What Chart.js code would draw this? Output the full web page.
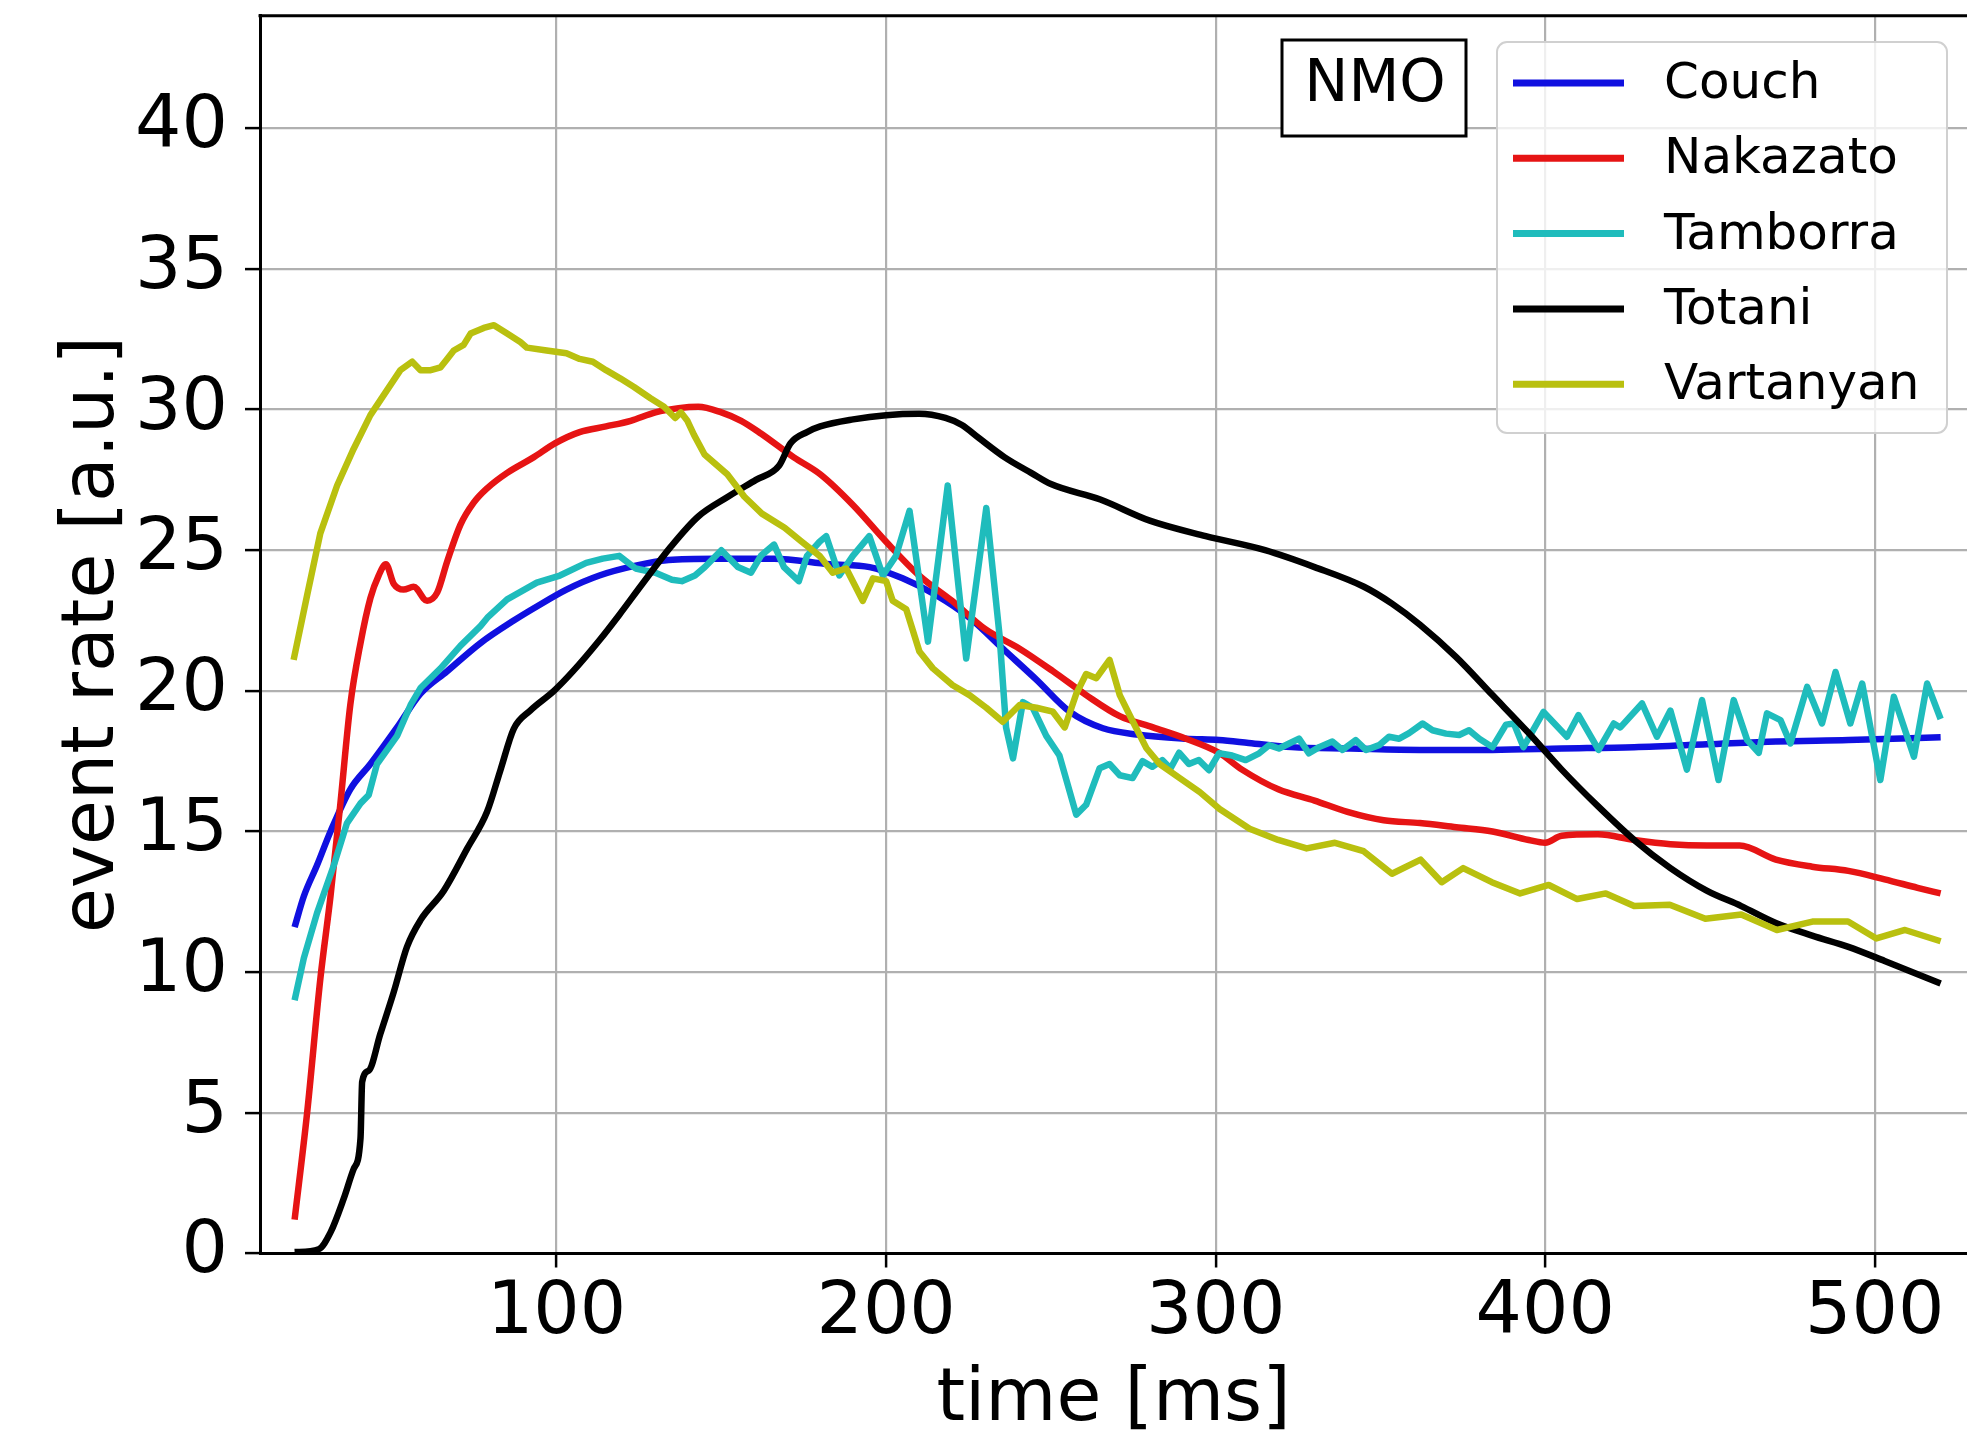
<!DOCTYPE html>
<html><head><meta charset="utf-8">
<script src="https://cdn.jsdelivr.net/npm/chart.js@4.4.0/dist/chart.umd.min.js"></script>
<style>html,body{margin:0;padding:0;background:#fff;overflow:hidden}#wrap{width:1967px;height:1438px;position:relative}</style>
</head><body><div id="wrap"><canvas id="c" width="1967" height="1438"></canvas></div>
<script>
const seriesNames = ['Couch', 'Nakazato', 'Tamborra', 'Totani', 'Vartanyan'];
const seriesColors = ['#1010e0', '#e61414', '#1fbcbc', '#000000', '#b9c00f'];
const xTickValues = [100, 200, 300, 400, 500];
const yTickValues = [0, 5, 10, 15, 20, 25, 30, 35, 40];

const couchTime = [20.5,23.3,27.3,31.4,37.4,43.5,51.6,58.7,66.8,76.9,87,94,103,113,124,134,148,166,183,195,205,215.2,225.3,235.4,245.6,255.7,265.8,276,291,301,310,323,341,362,384,405,427,449,470,492,520];
const couchRate = [11.6,12.7,13.8,15.0,16.5,17.4,18.7,19.9,20.7,21.7,22.5,23.0,23.6,24.1,24.45,24.65,24.7,24.7,24.5,24.4,24.0,23.4,22.6,21.5,20.4,19.26,18.67,18.45,18.3,18.25,18.15,18.0,17.95,17.9,17.9,17.95,18.0,18.1,18.2,18.25,18.35];

const nakazatoTime = [20.5,24.3,28.3,31.4,34.4,37.4,40.5,43.5,46,48.2,50.6,53.6,56.6,60.7,63.8,66.8,70.8,74.9,78.9,85,93,99.5,107,115,122.5,130,137,143,150,156,162,172,180,190,200,210,220,230,240.5,250.6,260.7,270.9,281,291,301,308,319,330,340,351,362,373,384,395,400,405,416,427,438,449,459,470,481,492,503,513,520];
const nakazatoRate = [1.2,5.0,9.75,12.7,16.0,19.5,21.7,23.3,24.1,24.5,23.8,23.6,23.7,23.2,23.5,24.6,25.9,26.7,27.2,27.75,28.3,28.8,29.2,29.4,29.6,29.9,30.05,30.1,29.9,29.6,29.15,28.3,27.7,26.6,25.3,24.1,23.2,22.2,21.5,20.7,19.85,19.1,18.7,18.3,17.8,17.2,16.5,16.1,15.7,15.4,15.3,15.15,15.0,14.7,14.6,14.85,14.9,14.7,14.55,14.5,14.5,14.0,13.75,13.6,13.3,13.0,12.8];

const tamborraTime = [20.5,23.3,27.3,32.4,36.4,40.5,43,45.5,51.6,55.7,58.7,64.8,70.8,76.9,79,85,94,101,109,114,119,124,130,135,138,142,145,150,155,159,162,166,169,173.5,176,179.8,181.8,185.8,189.9,194.9,199,203,207.1,212.7,218.7,224.3,230.4,234.4,236.4,238.5,241.5,244.5,248.6,252.6,257.7,260.7,264.8,267.8,270.9,274.8,277.8,280.8,283.8,286.3,288.9,291.9,294.9,298,301,305,309.1,313.2,316.2,319.2,322.3,325.3,328.3,331.4,335.4,338.5,342.5,345.6,349.6,352.6,355.7,358.7,362.8,365.8,369.9,373.9,376.9,380,384,388.1,390.5,393.4,399.5,406.6,410.1,416.2,420.8,422.8,429.4,433.9,438,443,447.6,452.6,457.2,461.3,464.8,467.3,471.4,474.4,479.5,484,488.1,492.6,496.2,501.7,505.8,511.9,515.9,520];
const tamborraRate = [9.0,10.5,12.1,13.8,15.3,16.0,16.3,17.4,18.4,19.5,20.1,20.8,21.6,22.3,22.6,23.25,23.85,24.1,24.55,24.7,24.8,24.35,24.2,23.95,23.9,24.1,24.4,25.0,24.4,24.2,24.8,25.2,24.4,23.9,24.8,25.3,25.5,24.1,24.8,25.5,24.1,24.8,26.4,21.75,27.3,21.15,26.5,22.0,18.7,17.6,19.6,19.4,18.4,17.7,15.6,15.95,17.25,17.4,17.0,16.9,17.5,17.3,17.54,17.24,17.8,17.4,17.54,17.18,17.78,17.7,17.54,17.78,18.07,17.95,18.13,18.3,17.78,18.0,18.2,17.9,18.25,17.9,18.07,18.37,18.3,18.5,18.84,18.6,18.48,18.43,18.6,18.3,18.0,18.8,18.84,18.0,19.25,18.37,19.14,17.9,18.84,18.7,19.55,18.37,19.3,17.2,19.67,16.83,19.67,18.25,17.8,19.2,18.96,18.13,20.14,18.84,20.67,18.84,20.26,16.83,19.79,17.66,20.26,19.0];

const totaniTime = [20.5,27.8,31.4,35.4,38.4,40.5,41,43,46.5,50.6,54.6,58.7,65.8,72.9,78.9,83,87,92,99.2,105,113,119,126,134.5,143,152,160.5,167.5,171,176,180,190,200,210,218,223,228,236,244,250,265,280,297,315,330,345,353.5,362,373,384,395,405,416,427,438,449,459.5,470,481,492,503,520];
const totaniRate = [0.05,0.15,0.75,1.95,3.0,4.1,6.1,6.5,7.8,9.3,10.9,11.85,12.9,14.4,15.7,17.2,18.65,19.3,20.0,20.7,21.8,22.7,23.8,25.1,26.2,26.9,27.5,28.0,28.8,29.2,29.4,29.65,29.8,29.85,29.7,29.45,29.0,28.3,27.75,27.35,26.8,26.05,25.5,25.0,24.4,23.7,23.1,22.35,21.2,19.85,18.5,17.2,15.9,14.7,13.7,12.9,12.35,11.75,11.3,10.9,10.4,9.6];

const vartanyanTime = [20.2,24.3,28.3,33.4,38.4,43.5,48.6,52.6,56.2,58.7,61.8,64.8,66.8,68.8,71.8,73.9,77.9,81,85,89,91,97,103,107,111,115,119.4,123.5,128.5,132.6,136,137.7,139.7,141.7,144.9,151.8,157,162.3,169.2,174.4,179.8,183.8,187.9,192.9,196,200,202,206.1,210.1,214.2,220.2,225.3,230.4,235.4,240.5,245.6,250.6,254.2,257.7,260.7,263.8,267.8,270.9,274.9,279,283,289.1,295.2,301.2,310.3,319,327.6,336.2,344.9,353.5,362.2,368.6,375.1,383.8,392.4,401.1,409.7,418.4,427,437.8,448.6,459.5,470.3,481.1,491.9,500.5,509.2,520];
const vartanyanRate = [21.1,23.4,25.6,27.3,28.6,29.8,30.7,31.4,31.7,31.4,31.4,31.5,31.8,32.1,32.3,32.7,32.9,33.0,32.7,32.4,32.2,32.1,32.0,31.8,31.7,31.4,31.1,30.8,30.4,30.1,29.7,29.9,29.6,29.1,28.4,27.7,26.9,26.3,25.8,25.3,24.8,24.2,24.35,23.2,24.0,23.9,23.2,22.9,21.4,20.8,20.2,19.85,19.4,18.9,19.5,19.4,19.26,18.7,19.9,20.6,20.45,21.1,19.85,18.9,17.96,17.4,16.9,16.4,15.8,15.1,14.7,14.4,14.6,14.3,13.5,14.0,13.2,13.7,13.2,12.8,13.1,12.6,12.8,12.35,12.4,11.9,12.05,11.5,11.8,11.8,11.2,11.5,11.1];

const seriesTimes = [couchTime, nakazatoTime, tamborraTime, totaniTime, vartanyanTime];
const seriesRates = [couchRate, nakazatoRate, tamborraRate, totaniRate, vartanyanRate];
const smoothSeries = [true, true, false, true, false];

const FONT = 'DejaVu Sans';

const datasets = seriesNames.map((name, i) => ({
  label: name,
  data: seriesTimes[i].map((t, j) => ({ x: t, y: seriesRates[i][j] })),
  borderColor: seriesColors[i],
  backgroundColor: seriesColors[i],
  borderWidth: 6.5,
  pointRadius: 0,
  fill: false,
  tension: smoothSeries[i] ? 0.3 : 0,
  cubicInterpolationMode: smoothSeries[i] ? 'monotone' : 'default',
  borderJoinStyle: 'round',
  borderCapStyle: 'butt',
  order: seriesNames.length - i
}));

const decor = {
  id: 'decor',
  afterDraw(chart) {
    const { ctx, chartArea: a } = chart;
    ctx.save();
    // top spine
    ctx.strokeStyle = '#000';
    ctx.lineWidth = 3;
    ctx.beginPath();
    ctx.moveTo(a.left - 1.5, a.top);
    ctx.lineTo(a.right, a.top);
    ctx.stroke();

    // NMO label box
    ctx.fillStyle = '#fff';
    ctx.fillRect(1282, 40, 184, 96);
    ctx.strokeStyle = '#000';
    ctx.lineWidth = 3;
    ctx.strokeRect(1282, 40, 184, 96);
    ctx.fillStyle = '#000';
    ctx.font = '59px "' + FONT + '"';
    ctx.textAlign = 'center';
    ctx.textBaseline = 'middle';
    ctx.fillText('NMO', 1375, 86);

    // legend box
    const lx = 1497, ly = 42, lw = 450, lh = 391, r = 10;
    ctx.beginPath();
    ctx.moveTo(lx + r, ly);
    ctx.arcTo(lx + lw, ly, lx + lw, ly + lh, r);
    ctx.arcTo(lx + lw, ly + lh, lx, ly + lh, r);
    ctx.arcTo(lx, ly + lh, lx, ly, r);
    ctx.arcTo(lx, ly, lx + lw, ly, r);
    ctx.closePath();
    ctx.fillStyle = 'rgba(255,255,255,0.8)';
    ctx.fill();
    ctx.strokeStyle = '#d0d0d0';
    ctx.lineWidth = 2;
    ctx.stroke();

    ctx.font = '50px "' + FONT + '"';
    ctx.textAlign = 'left';
    ctx.textBaseline = 'middle';
    chart.data.datasets.forEach((ds, i) => {
      const y = 83 + i * 75.3;
      ctx.strokeStyle = ds.borderColor;
      ctx.lineWidth = 7;
      ctx.beginPath();
      ctx.moveTo(1513, y);
      ctx.lineTo(1624, y);
      ctx.stroke();
      ctx.fillStyle = '#000';
      ctx.fillText(ds.label, 1664, y + 2);
    });
    ctx.restore();
  }
};

new Chart(document.getElementById('c'), {
  type: 'line',
  data: { datasets },
  options: {
    responsive: false,
    devicePixelRatio: 1,
    animation: false,
    layout: { padding: { top: 15.7, left: 0, right: 0, bottom: 0 } },
    plugins: { legend: { display: false }, tooltip: { enabled: false } },
    scales: {
      x: {
        type: 'linear',
        min: 10,
        max: 528,
        afterFit: s => { s.height = 184.5; s.paddingLeft = 0; s.paddingRight = 0; },
        afterBuildTicks: s => { s.ticks = xTickValues.map(v => ({ value: v })); },
        ticks: { color: '#000', font: { family: FONT, size: 73 }, padding: 3, maxRotation: 0, autoSkip: false },
        grid: { color: '#b0b0b0', lineWidth: 2.2, drawTicks: true, tickLength: 14, tickColor: '#000', tickWidth: 2.5 },
        border: { display: true, color: '#000', width: 3 },
        title: { display: true, text: 'time [ms]', color: '#000', font: { family: FONT, size: 73, lineHeight: 1 }, padding: 0 }
      },
      y: {
        type: 'linear',
        min: 0,
        max: 44,
        afterFit: s => { s.width = 260; s.paddingTop = 0; s.paddingBottom = 0; },
        afterBuildTicks: s => { s.ticks = yTickValues.map(v => ({ value: v })); },
        ticks: { color: '#000', font: { family: FONT, size: 73 }, padding: 17, autoSkip: false },
        grid: { color: '#b0b0b0', lineWidth: 2.2, drawTicks: true, tickLength: 15, tickColor: '#000', tickWidth: 2.5 },
        border: { display: true, color: '#000', width: 3 },
        title: { display: true, text: 'event rate [a.u.]', color: '#000', font: { family: FONT, size: 73, lineHeight: 1.2 }, padding: { top: 50 } }
      }
    }
  },
  plugins: [decor]
});
</script>
</body></html>
